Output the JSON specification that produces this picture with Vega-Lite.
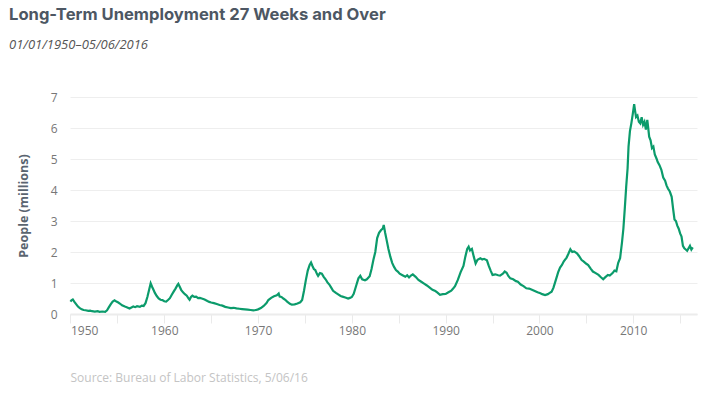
{
  "$schema": "https://vega.github.io/schema/vega-lite/v6.json",
  "width": 627,
  "height": 217,
  "autosize": {"type": "none"},
  "padding": {"left": 70, "top": 97, "right": 11, "bottom": 79},
  "background": "white",
  "config": {"view": {"stroke": null}},
  "title": {
    "text": "Long-Term Unemployment 27 Weeks and Over",
    "subtitle": "01/01/1950–05/06/2016",
    "anchor": "start",
    "frame": "group",
    "dx": -61,
    "offset": 39,
    "font": "Inter",
    "fontSize": 16.6,
    "fontWeight": "bold",
    "color": "#4d5763",
    "subtitleFont": "Open Sans",
    "subtitleFontStyle": "italic",
    "subtitleFontSize": 13,
    "subtitleColor": "#555555",
    "subtitlePadding": 15
  },
  "data": {
    "values": [
      {"t":1950.0,"v":0.40},{"t":1950.1,"v":0.44},{"t":1950.25,"v":0.47},{"t":1950.4,"v":0.40},{"t":1950.6,"v":0.32},{"t":1950.8,"v":0.24},
      {"t":1951.0,"v":0.19},{"t":1951.2,"v":0.15},{"t":1951.4,"v":0.13},{"t":1951.6,"v":0.12},{"t":1951.9,"v":0.10},
      {"t":1952.1,"v":0.11},{"t":1952.3,"v":0.09},{"t":1952.6,"v":0.08},{"t":1952.9,"v":0.09},
      {"t":1953.1,"v":0.07},{"t":1953.4,"v":0.08},{"t":1953.7,"v":0.07},{"t":1953.9,"v":0.12},
      {"t":1954.1,"v":0.22},{"t":1954.3,"v":0.32},{"t":1954.5,"v":0.40},{"t":1954.7,"v":0.44},{"t":1954.9,"v":0.40},
      {"t":1955.1,"v":0.37},{"t":1955.3,"v":0.33},{"t":1955.5,"v":0.28},{"t":1955.8,"v":0.24},
      {"t":1956.0,"v":0.22},{"t":1956.3,"v":0.18},{"t":1956.5,"v":0.21},{"t":1956.7,"v":0.24},{"t":1956.9,"v":0.22},
      {"t":1957.1,"v":0.25},{"t":1957.4,"v":0.23},{"t":1957.6,"v":0.27},{"t":1957.8,"v":0.26},
      {"t":1958.0,"v":0.35},{"t":1958.2,"v":0.55},{"t":1958.4,"v":0.80},{"t":1958.55,"v":0.99},{"t":1958.7,"v":0.88},{"t":1958.85,"v":0.78},
      {"t":1959.0,"v":0.68},{"t":1959.2,"v":0.58},{"t":1959.4,"v":0.50},{"t":1959.6,"v":0.46},{"t":1959.8,"v":0.45},
      {"t":1960.0,"v":0.41},{"t":1960.2,"v":0.40},{"t":1960.4,"v":0.45},{"t":1960.6,"v":0.51},{"t":1960.8,"v":0.62},
      {"t":1961.0,"v":0.72},{"t":1961.2,"v":0.82},{"t":1961.4,"v":0.93},{"t":1961.5,"v":0.97},{"t":1961.65,"v":0.88},{"t":1961.8,"v":0.78},
      {"t":1962.0,"v":0.70},{"t":1962.2,"v":0.64},{"t":1962.4,"v":0.59},{"t":1962.6,"v":0.50},{"t":1962.7,"v":0.46},{"t":1962.85,"v":0.55},
      {"t":1963.0,"v":0.59},{"t":1963.2,"v":0.55},{"t":1963.4,"v":0.56},{"t":1963.6,"v":0.51},{"t":1963.8,"v":0.52},
      {"t":1964.0,"v":0.50},{"t":1964.3,"v":0.47},{"t":1964.6,"v":0.42},{"t":1964.8,"v":0.39},
      {"t":1965.0,"v":0.37},{"t":1965.3,"v":0.35},{"t":1965.6,"v":0.32},{"t":1965.9,"v":0.29},
      {"t":1966.2,"v":0.27},{"t":1966.5,"v":0.23},{"t":1966.8,"v":0.21},
      {"t":1967.1,"v":0.19},{"t":1967.4,"v":0.20},{"t":1967.7,"v":0.18},
      {"t":1968.0,"v":0.17},{"t":1968.3,"v":0.16},{"t":1968.6,"v":0.15},{"t":1968.9,"v":0.14},
      {"t":1969.2,"v":0.13},{"t":1969.5,"v":0.12},{"t":1969.8,"v":0.13},
      {"t":1970.0,"v":0.15},{"t":1970.3,"v":0.19},{"t":1970.6,"v":0.26},{"t":1970.9,"v":0.35},
      {"t":1971.1,"v":0.45},{"t":1971.4,"v":0.52},{"t":1971.7,"v":0.57},
      {"t":1972.0,"v":0.60},{"t":1972.2,"v":0.66},{"t":1972.3,"v":0.56},{"t":1972.5,"v":0.55},{"t":1972.7,"v":0.50},{"t":1972.9,"v":0.46},
      {"t":1973.1,"v":0.40},{"t":1973.4,"v":0.33},{"t":1973.6,"v":0.30},{"t":1973.9,"v":0.31},
      {"t":1974.2,"v":0.34},{"t":1974.5,"v":0.38},{"t":1974.7,"v":0.45},{"t":1974.9,"v":0.75},
      {"t":1975.1,"v":1.10},{"t":1975.3,"v":1.40},{"t":1975.5,"v":1.58},{"t":1975.65,"v":1.66},{"t":1975.8,"v":1.55},{"t":1975.95,"v":1.45},
      {"t":1976.1,"v":1.42},{"t":1976.3,"v":1.28},{"t":1976.4,"v":1.23},{"t":1976.6,"v":1.32},{"t":1976.8,"v":1.30},
      {"t":1977.0,"v":1.20},{"t":1977.2,"v":1.12},{"t":1977.4,"v":1.02},{"t":1977.6,"v":0.95},{"t":1977.8,"v":0.85},
      {"t":1978.0,"v":0.75},{"t":1978.3,"v":0.68},{"t":1978.5,"v":0.64},{"t":1978.8,"v":0.58},
      {"t":1979.0,"v":0.56},{"t":1979.3,"v":0.53},{"t":1979.6,"v":0.50},{"t":1979.8,"v":0.52},
      {"t":1980.0,"v":0.55},{"t":1980.2,"v":0.65},{"t":1980.5,"v":0.95},{"t":1980.7,"v":1.15},{"t":1980.9,"v":1.23},
      {"t":1981.1,"v":1.12},{"t":1981.4,"v":1.09},{"t":1981.6,"v":1.12},{"t":1981.9,"v":1.22},
      {"t":1982.1,"v":1.45},{"t":1982.3,"v":1.75},{"t":1982.5,"v":2.00},{"t":1982.7,"v":2.45},{"t":1982.9,"v":2.62},
      {"t":1983.1,"v":2.70},{"t":1983.3,"v":2.76},{"t":1983.4,"v":2.87},{"t":1983.55,"v":2.62},{"t":1983.7,"v":2.40},{"t":1983.9,"v":2.10},
      {"t":1984.1,"v":1.85},{"t":1984.3,"v":1.65},{"t":1984.5,"v":1.52},{"t":1984.7,"v":1.42},{"t":1984.9,"v":1.37},
      {"t":1985.1,"v":1.30},{"t":1985.4,"v":1.25},{"t":1985.7,"v":1.20},{"t":1985.9,"v":1.25},
      {"t":1986.1,"v":1.18},{"t":1986.3,"v":1.24},{"t":1986.5,"v":1.28},{"t":1986.8,"v":1.20},
      {"t":1987.1,"v":1.10},{"t":1987.4,"v":1.04},{"t":1987.7,"v":0.98},
      {"t":1988.0,"v":0.92},{"t":1988.3,"v":0.85},{"t":1988.6,"v":0.78},{"t":1988.9,"v":0.74},
      {"t":1989.1,"v":0.70},{"t":1989.4,"v":0.62},{"t":1989.7,"v":0.64},
      {"t":1990.0,"v":0.65},{"t":1990.3,"v":0.70},{"t":1990.6,"v":0.75},{"t":1990.8,"v":0.82},
      {"t":1991.0,"v":0.90},{"t":1991.3,"v":1.10},{"t":1991.6,"v":1.35},{"t":1991.9,"v":1.55},
      {"t":1992.1,"v":1.85},{"t":1992.3,"v":2.10},{"t":1992.45,"v":2.17},{"t":1992.6,"v":2.05},{"t":1992.8,"v":2.10},
      {"t":1993.0,"v":1.85},{"t":1993.2,"v":1.63},{"t":1993.4,"v":1.75},{"t":1993.7,"v":1.80},{"t":1993.9,"v":1.76},
      {"t":1994.1,"v":1.78},{"t":1994.4,"v":1.73},{"t":1994.6,"v":1.55},{"t":1994.8,"v":1.40},
      {"t":1995.0,"v":1.26},{"t":1995.3,"v":1.28},{"t":1995.6,"v":1.25},{"t":1995.8,"v":1.24},
      {"t":1996.1,"v":1.30},{"t":1996.3,"v":1.37},{"t":1996.5,"v":1.33},{"t":1996.7,"v":1.22},{"t":1996.9,"v":1.15},
      {"t":1997.2,"v":1.12},{"t":1997.5,"v":1.06},{"t":1997.7,"v":1.04},
      {"t":1998.0,"v":0.95},{"t":1998.3,"v":0.90},{"t":1998.6,"v":0.83},{"t":1998.9,"v":0.82},
      {"t":1999.2,"v":0.78},{"t":1999.5,"v":0.74},{"t":1999.8,"v":0.70},
      {"t":2000.1,"v":0.67},{"t":2000.3,"v":0.64},{"t":2000.6,"v":0.61},{"t":2000.9,"v":0.64},
      {"t":2001.1,"v":0.68},{"t":2001.3,"v":0.72},{"t":2001.5,"v":0.85},{"t":2001.8,"v":1.15},
      {"t":2002.0,"v":1.35},{"t":2002.2,"v":1.50},{"t":2002.4,"v":1.58},{"t":2002.6,"v":1.70},{"t":2002.9,"v":1.82},
      {"t":2003.1,"v":1.95},{"t":2003.3,"v":2.09},{"t":2003.5,"v":2.00},{"t":2003.7,"v":2.02},
      {"t":2004.0,"v":1.96},{"t":2004.2,"v":1.88},{"t":2004.5,"v":1.74},{"t":2004.7,"v":1.70},
      {"t":2005.0,"v":1.62},{"t":2005.2,"v":1.58},{"t":2005.5,"v":1.45},{"t":2005.7,"v":1.37},
      {"t":2006.0,"v":1.32},{"t":2006.3,"v":1.26},{"t":2006.5,"v":1.20},{"t":2006.8,"v":1.12},
      {"t":2007.0,"v":1.18},{"t":2007.3,"v":1.26},{"t":2007.5,"v":1.24},{"t":2007.8,"v":1.32},
      {"t":2008.0,"v":1.40},{"t":2008.2,"v":1.38},{"t":2008.4,"v":1.65},{"t":2008.6,"v":1.80},{"t":2008.8,"v":2.30},{"t":2008.95,"v":2.75},
      {"t":2009.1,"v":3.40},{"t":2009.25,"v":4.10},{"t":2009.4,"v":4.70},{"t":2009.5,"v":5.40},{"t":2009.65,"v":5.90},{"t":2009.8,"v":6.15},{"t":2009.95,"v":6.45},
      {"t":2010.1,"v":6.77},{"t":2010.2,"v":6.55},{"t":2010.3,"v":6.35},{"t":2010.45,"v":6.40},{"t":2010.6,"v":6.20},{"t":2010.75,"v":6.15},{"t":2010.9,"v":6.35},
      {"t":2011.05,"v":6.10},{"t":2011.2,"v":6.20},{"t":2011.35,"v":5.95},{"t":2011.5,"v":6.26},{"t":2011.6,"v":6.00},{"t":2011.7,"v":5.72},{"t":2011.85,"v":5.60},
      {"t":2012.0,"v":5.35},{"t":2012.15,"v":5.40},{"t":2012.3,"v":5.15},{"t":2012.5,"v":5.00},{"t":2012.6,"v":4.91},{"t":2012.8,"v":4.80},
      {"t":2013.0,"v":4.65},{"t":2013.2,"v":4.40},{"t":2013.4,"v":4.30},{"t":2013.55,"v":4.15},{"t":2013.7,"v":4.05},{"t":2013.9,"v":3.95},
      {"t":2014.1,"v":3.78},{"t":2014.25,"v":3.40},{"t":2014.4,"v":3.05},{"t":2014.55,"v":3.00},{"t":2014.7,"v":2.85},{"t":2014.85,"v":2.75},
      {"t":2015.0,"v":2.60},{"t":2015.15,"v":2.50},{"t":2015.3,"v":2.20},{"t":2015.45,"v":2.12},{"t":2015.6,"v":2.08},{"t":2015.75,"v":2.04},{"t":2015.9,"v":2.12},
      {"t":2016.05,"v":2.20},{"t":2016.2,"v":2.08},{"t":2016.35,"v":2.15}
    ]
  },
  "mark": {"type": "line", "color": "#0b9b6b", "strokeWidth": 2.2, "interpolate": "linear"},
  "encoding": {
    "x": {
      "field": "t",
      "type": "quantitative",
      "scale": {"domain": [1949.95, 2016.8], "nice": false, "zero": false},
      "axis": {
        "values": [1950, 1955, 1960, 1965, 1970, 1975, 1980, 1985, 1990, 1995, 2000, 2005, 2010, 2015],
        "format": "d",
        "labelExpr": "datum.value % 10 == 0 ? datum.label : ''",
        "grid": false,
        "domainColor": "#ececec",
        "domainWidth": 2,
        "tickColor": "#eaeaea",
        "tickSize": 9,
        "tickWidth": 1,
        "labelFont": "Open Sans",
        "labelFontSize": 12,
        "labelColor": "#777777",
        "labelPadding": 2,
        "title": "Source: Bureau of Labor Statistics, 5/06/16",
        "titleAnchor": "start",
        "titleAlign": "left",
        "titleX": 0,
        "titleY": 67,
        "titleBaseline": "alphabetic",
        "titleFont": "Open Sans",
        "titleFontWeight": "normal",
        "titleFontSize": 12,
        "titleColor": "#c4c4c4"
      }
    },
    "y": {
      "field": "v",
      "type": "quantitative",
      "scale": {"domain": [0, 7], "nice": false},
      "axis": {
        "values": [0, 1, 2, 3, 4, 5, 6, 7],
        "domain": false,
        "ticks": false,
        "gridColor": "#eeeeee",
        "gridWidth": 1,
        "labelFont": "Open Sans",
        "labelFontSize": 12,
        "labelColor": "#777777",
        "labelPadding": 13,
        "title": "People (millions)",
        "titleFont": "Open Sans",
        "titleFontSize": 12.5,
        "titleFontWeight": "bold",
        "titleColor": "#5a6470",
        "titlePadding": 20
      }
    }
  }
}
